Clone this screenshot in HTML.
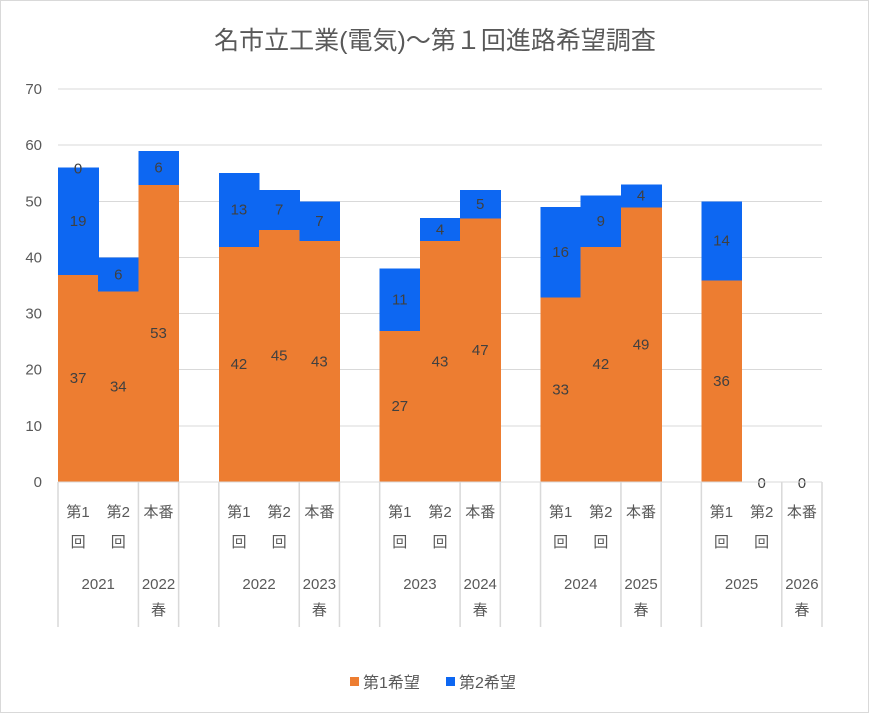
<!DOCTYPE html>
<html><head><meta charset="utf-8"><style>
body{margin:0;background:#fff;}
svg{display:block;font-family:"Liberation Sans","Noto Sans CJK JP",sans-serif;}
</style></head><body>
<svg id="c" width="869" height="713">
<rect x="0.5" y="0.5" width="868" height="712" fill="#fff" stroke="#d9d9d9"/>
<text x="435" y="49" font-size="25" fill="#595959" text-anchor="middle">名市立工業(電気)～第１回進路希望調査</text>
<g id="g"></g>
<g>
<rect x="350" y="677" width="9" height="9" fill="#ed7d31"/>
<text x="363" y="688" font-size="16" fill="#595959">第1希望</text>
<rect x="446" y="677" width="9" height="9" fill="#0d67f2"/>
<text x="459" y="688" font-size="16" fill="#595959">第2希望</text>
</g>
</svg>
<script>
const rounds=["第1|回","第2|回","本番","","第1|回","第2|回","本番","","第1|回","第2|回","本番","","第1|回","第2|回","本番","","第1|回","第2|回","本番"];
const first=[37,34,53,null,42,45,43,null,27,43,47,null,33,42,49,null,36,0,0];
const second=[19,6,6,null,13,7,7,null,11,4,5,null,16,9,4,null,14,0,0];
const years=[["2021",0,2],["2022|春",2,1],["2022",4,2],["2023|春",6,1],["2023",8,2],["2024|春",10,1],["2024",12,2],["2025|春",14,1],["2025",16,2],["2026|春",18,1]];
const yTicks=[0,10,20,30,40,50,60,70];
const x0=58,x1=822,y0=482,yTop=89,ymax=70;
const w=(x1-x0)/first.length;
const y=v=>y0-(y0-yTop)*v/ymax;
const X=i=>x0+i*w;
const g=document.getElementById('g');
const NS='http://www.w3.org/2000/svg';
function mk(t,a,p){const e=document.createElementNS(NS,t);for(const k in a)e.setAttribute(k,a[k]);(p||g).appendChild(e);return e;}
yTicks.forEach(t=>{
 const l=mk('line',{x1:x0,x2:x1,y1:y(t),y2:y(t),stroke:'#d9d9d9','shape-rendering':'crispEdges'});
 
 
 const tx=mk('text',{x:42,y:y(t)+5,'font-size':15,fill:'#595959','text-anchor':'end'});tx.textContent=t;
 
 
});
first.forEach((v,i)=>{
 if(v===null)return;
 const s=second[i];
 const r=mk('rect',{x:X(i),y:y(v),width:w+0.6,height:y0-y(v),fill:'#ed7d31','shape-rendering':'crispEdges'});
 
 
 const r2=mk('rect',{x:X(i),y:y(v+s),width:w+0.6,height:y(v)-y(v+s)+0.6,fill:'#0d67f2','shape-rendering':'crispEdges'});
 
 
 if(v>0){const t=mk('text',{x:X(i)+w/2,y:y(v/2)+5,'font-size':15,fill:'#404040','text-anchor':'middle'});t.textContent=v;
 
 }
 const ly=s>0?y(v+s/2)+5:y(v)+6;
 const t2=mk('text',{x:X(i)+w/2,y:ly,'font-size':15,fill:'#404040','text-anchor':'middle'});t2.textContent=s;
 
 
});
const z=mk('text',{x:X(0)+w/2,y:y(56)+6,'font-size':15,fill:'#404040','text-anchor':'middle'});z.textContent='0';


const ax=mk('line',{x1:x0,x2:x1,y1:y0,y2:y0,stroke:'#d9d9d9','shape-rendering':'crispEdges'});


rounds.forEach((r,i)=>{
 if(!r)return;
 r.split('|').forEach((p,k)=>{
  const t=mk('text',{x:X(i)+w/2,y:517+k*30,'font-size':15,fill:'#595959','text-anchor':'middle'});t.textContent=p;
  
  
 });
});
const seps=new Set();
years.forEach(([lab,s,n])=>{seps.add(s);seps.add(s+n);
 lab.split('|').forEach((p,k)=>{
  const t=mk('text',{x:X(s)+n*w/2,y:589+k*26,'font-size':15,fill:'#595959','text-anchor':'middle'});t.textContent=p;
  
  
 });
});
seps.forEach(i=>{const l=mk('line',{x1:X(i),x2:X(i),y1:y0,y2:627,stroke:'#d9d9d9','stroke-width':1.5});
 
 });
</script>
</body></html>
